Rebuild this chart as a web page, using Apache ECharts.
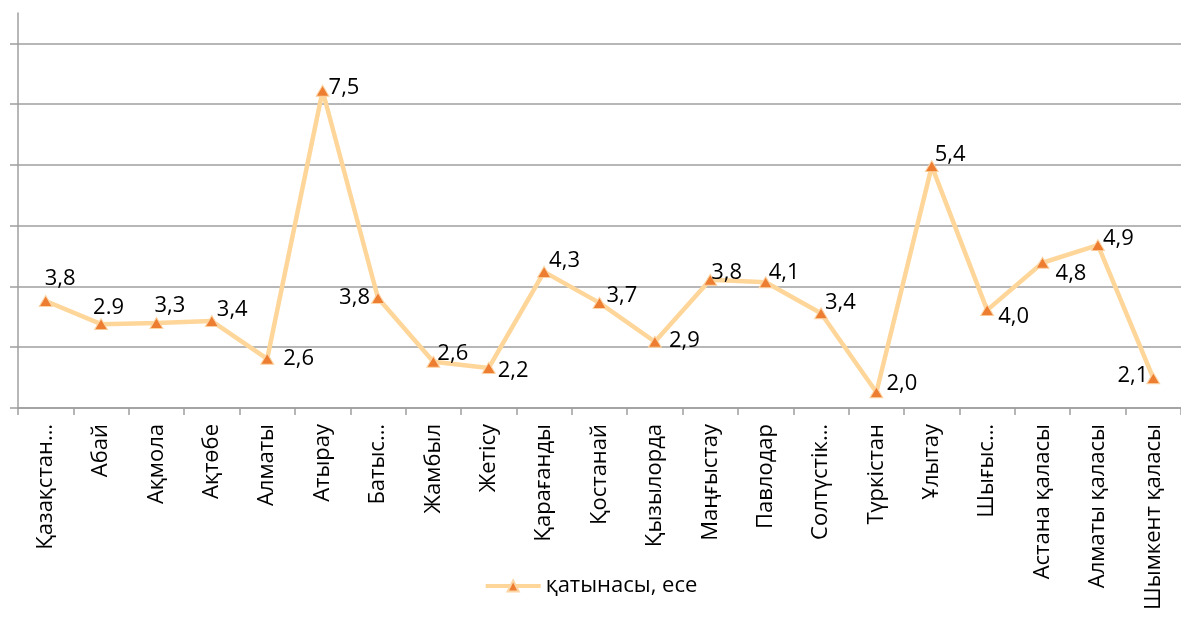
<!DOCTYPE html>
<html>
<head>
<meta charset="utf-8">
<script src="https://cdn.jsdelivr.net/npm/echarts@6/dist/echarts.min.js"></script>
<style>
  html, body { margin: 0; padding: 0; background: #fff; }
  #main { width: 1181px; height: 618px; }
</style>
</head>
<body>
<div id="main"></div>
<script>
  // өңірлер
  var regions = ['Қазақстан…', 'Абай', 'Ақмола', 'Ақтөбе', 'Алматы', 'Атырау', 'Батыс…',
    'Жамбыл', 'Жетісу', 'Қарағанды', 'Қостанай', 'Қызылорда', 'Маңғыстау', 'Павлодар',
    'Солтүстік…', 'Түркістан', 'Ұлытау', 'Шығыс…', 'Астана қаласы', 'Алматы қаласы', 'Шымкент қаласы'];
  // нүктелердің биіктігі (сурет бойынша)
  var ratio = [1.76, 1.38, 1.40, 1.43, 0.81, 5.22, 1.81, 0.76, 0.66, 2.24, 1.73,
    1.09, 2.11, 2.07, 1.56, 0.26, 3.98, 1.61, 2.39, 2.68, 0.49];
  // жазылған мәндер
  var ratioText = ['3,8', '2.9', '3,3', '3,4', '2,6', '7,5', '3,8', '2,6', '2,2', '4,3', '3,7',
    '2,9', '3,8', '4,1', '3,4', '2,0', '5,4', '4,0', '4,8', '4,9', '2,1'];
  var seriesName = 'қатынасы, есе';

  // жазулардың орны [dx, dy, align]
  var labelPlace = [[-1, -23, 'left'], [-8, -17, 'left'], [-2, -18, 'left'], [5, -12, 'left'],
    [16, -1, 'left'], [6, -4, 'left'], [-8, -1, 'right'], [4, -9, 'left'], [9, 2, 'left'],
    [5, -12, 'left'], [7, -8, 'left'], [14, -2, 'left'], [1, -8, 'left'], [3, -10, 'left'],
    [4, -11, 'left'], [10, -9, 'left'], [3, -12, 'left'], [11, 6, 'left'], [13, 10, 'left'],
    [5, -7, 'left'], [-5, -3, 'right']];

  var font = '"Open Sans", "Noto Sans", sans-serif';
  var gridColor = '#9f9f9f';

  var points = [];
  for (var i = 0; i < ratio.length; i++) {
    points.push({
      value: ratio[i],
      label: {
        position: 'inside',
        align: labelPlace[i][2],
        verticalAlign: 'middle',
        offset: [labelPlace[i][0], labelPlace[i][1] + 1]
      }
    });
  }

  var chart = echarts.init(document.getElementById('main'));
  chart.setOption({
    animation: false,
    textStyle: { fontFamily: font },
    grid: { left: 18, right: 0, top: 13, bottom: 210, outerBoundsMode: 'none', containLabel: false },
    legend: {
      data: [seriesName],
      left: 'center',
      top: 570,
      itemWidth: 55,
      itemHeight: 14,
      itemGap: 5,
      lineStyle: { width: 4 },
      textStyle: { fontFamily: font, fontSize: 22, color: '#000' }
    },
    xAxis: {
      type: 'category',
      data: regions,
      boundaryGap: true,
      axisLine: { lineStyle: { color: gridColor, width: 1.5 } },
      axisTick: { show: true, alignWithLabel: false, length: 7, lineStyle: { color: gridColor, width: 1.5 } },
      axisLabel: {
        interval: 0,
        rotate: 90,
        margin: 16,
        color: '#000',
        fontSize: 22,
        fontFamily: font
      }
    },
    yAxis: {
      type: 'value',
      min: 0,
      max: 6.5,
      interval: 1,
      axisLine: { show: true, lineStyle: { color: gridColor, width: 1.5 } },
      axisTick: { show: true, length: 8, customValues: [0, 1, 2, 3, 4, 5, 6], lineStyle: { color: gridColor, width: 1.5 } },
      axisLabel: { show: false },
      splitLine: {
        show: true,
        lineStyle: {
          color: [gridColor, gridColor, gridColor, gridColor, gridColor, gridColor, gridColor, 'rgba(0,0,0,0)'],
          width: 1.5
        }
      }
    },
    series: [{
      name: seriesName,
      type: 'line',
      data: points,
      symbol: 'triangle',
      symbolSize: [13, 11],
      lineStyle: { color: '#ffd699', width: 4.5 },
      itemStyle: { color: '#ed7d31', borderColor: '#fcd5a5', borderWidth: 1 },
      label: {
        show: true,
        color: '#000',
        fontSize: 22,
        fontFamily: font,
        formatter: function (p) { return ratioText[p.dataIndex]; }
      },
      emphasis: { disabled: true }
    }]
  });
</script>
</body>
</html>
